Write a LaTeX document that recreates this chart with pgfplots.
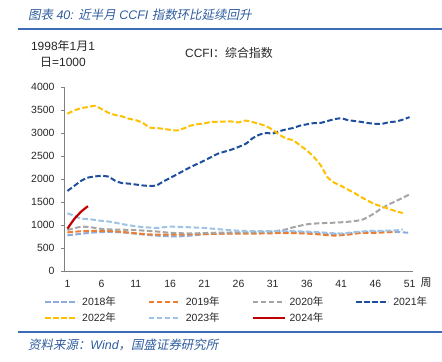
\documentclass[border=0pt]{standalone}
\usepackage{fontspec}
\setmainfont{Liberation Sans}
\newfontfamily\cjk{Noto Sans CJK SC}
\newfontfamily\cjkit{Noto Sans CJK SC}[FakeSlant=0.2]
\usepackage{pgfplots}
\pgfplotsset{compat=1.18}
\definecolor{c18}{HTML}{8FAADC}
\definecolor{c19}{HTML}{ED7D31}
\definecolor{c20}{HTML}{A5A5A5}
\definecolor{c21}{HTML}{1F4E9E}
\definecolor{c22}{HTML}{FFC000}
\definecolor{c23}{HTML}{9DC3E6}
\definecolor{c24}{HTML}{C00000}
\definecolor{tblue}{HTML}{2E5C9E}
\definecolor{rblue}{HTML}{3B6CB5}
\definecolor{axgray}{HTML}{808080}
\definecolor{txt}{HTML}{262626}
\begin{document}
\begin{tikzpicture}[x=1bp,y=1bp]
\useasboundingbox (0,0) rectangle (442,361);
\node[anchor=west, text=tblue, font=\fontsize{12.5}{14}\selectfont, inner sep=0] at (28,346)
 {{\cjkit 图表} {\itshape 40:} {\cjkit 近半月} {\itshape CCFI} {\cjkit 指数环比延续回升}};
\draw[rblue, line width=1.6bp] (18,332) -- (442,332);
\node[align=center, text=txt, font=\fontsize{12}{16}\selectfont, inner sep=0] at (63,307)
 {1998{\cjk 年}1{\cjk 月}1\\{\cjk 日}=1000};
\node[anchor=west, text=txt, font=\fontsize{12}{14}\selectfont, inner sep=0] at (185,308)
 {CCFI{\cjk ：综合指数}};
\begin{axis}[
  at={(64bp,90bp)}, anchor=south west,
  scale only axis, width=349bp, height=184bp,
  xmin=0.5, xmax=51.5, ymin=0, ymax=4000,
  axis lines*=left,
  axis line style={axgray, line width=0.8bp},
  xtick={1,6,...,51}, ytick={0,500,...,4000},
  major x tick style={draw=none},
  major y tick style={axgray, line width=0.8bp},
  tick align=outside, major tick length=3bp,
  ytick pos=left, xtick pos=bottom,
  tick label style={font=\fontsize{10.5}{12}\selectfont, text=txt},
  /pgf/number format/assume math mode=true,
  /pgf/number format/1000 sep={},
  yticklabel style={xshift=-3bp},
  xticklabel style={yshift=-3bp},
  legend columns=4,
  legend style={at={(-0.0573,-0.13)}, anchor=north west, draw=none, fill=none,
    inner sep=0pt, font=\fontsize{10.5}{12}\selectfont, text=txt,
    row sep=1.5bp,
    /tikz/every odd column/.append style={column sep=2bp},
    /tikz/every even column/.append style={column sep=30bp}},
  legend cell align=left,
  legend image code/.code={\draw[#1, line width=2bp] (0bp,0bp) -- (32bp,0bp);},
  every axis plot/.append style={line width=2bp, smooth, tension=0.35},
  dsh/.style={dash pattern=on 5.5bp off 2.5bp},
]
\addplot[c18, dsh] coordinates {(1,775) (3,810) (5,840) (7,850) (9,840) (11,810) (13,780) (15,760) (17,750) (19,770) (21,800) (23,810) (25,820) (27,830) (29,845) (31,850) (33,850) (35,850) (37,830) (39,810) (41,800) (43,830) (45,850) (47,855) (49,850) (51,830)};
\addlegendentry{2018{\cjk 年}}
\addplot[c19, dsh] coordinates {(1,840) (3,865) (5,875) (7,870) (9,850) (11,820) (13,795) (15,790) (17,790) (19,795) (21,800) (23,810) (25,815) (27,815) (29,815) (31,820) (33,825) (35,820) (37,805) (39,780) (40,770) (42,790) (44,830) (46,830) (48,845) (49,860)};
\addlegendentry{2019{\cjk 年}}
\addplot[c20, dsh] coordinates {(1,890) (2,930) (3,960) (4,960) (6,915) (8,900) (10,895) (12,880) (14,860) (16,830) (18,820) (20,820) (22,830) (24,835) (26,840) (28,842) (30,850) (31,860) (33,905) (34,950) (36,1015) (38,1040) (40,1050) (42,1070) (44,1110) (45,1180) (46,1270) (47,1370) (48,1450) (49,1520) (50,1590) (51,1665)};
\addlegendentry{2020{\cjk 年}}
\addplot[c21, dsh] coordinates {(1,1740) (2,1850) (3,1960) (4,2030) (5,2055) (6,2070) (7,2050) (8,1960) (9,1910) (10,1900) (11,1880) (12,1860) (13,1850) (14,1860) (15,1945) (17,2100) (19,2260) (21,2400) (23,2550) (25,2640) (27,2760) (28,2880) (29,2960) (30,3000) (31,2990) (32,3040) (33,3080) (34,3110) (35,3160) (37,3215) (38,3220) (39,3260) (40,3300) (41,3320) (42,3280) (43,3260) (44,3240) (45,3215) (46,3200) (47,3200) (48,3235) (49,3250) (50,3290) (51,3345)};
\addlegendentry{2021{\cjk 年}}
\addplot[c22, dsh] coordinates {(1,3420) (2,3490) (3,3540) (4,3565) (5,3590) (6,3520) (7,3440) (8,3390) (9,3360) (10,3310) (11,3280) (12,3220) (13,3120) (14,3110) (15,3090) (16,3070) (17,3055) (18,3100) (19,3160) (20,3190) (21,3210) (22,3240) (23,3245) (24,3250) (25,3250) (26,3230) (27,3270) (28,3240) (29,3200) (30,3150) (31,3070) (32,2960) (33,2880) (34,2840) (35,2730) (36,2620) (37,2480) (38,2300) (39,2040) (40,1920) (41,1850) (42,1770) (43,1690) (44,1600) (45,1520) (46,1450) (47,1400) (48,1350) (49,1300) (50,1260)};
\addlegendentry{2022{\cjk 年}}
\addplot[c23, dsh] coordinates {(1,1255) (2,1200) (3,1140) (4,1130) (5,1110) (6,1090) (7,1075) (8,1050) (9,1020) (10,995) (11,970) (12,955) (13,945) (14,935) (15,950) (16,965) (17,960) (19,950) (21,935) (23,910) (25,885) (27,870) (29,865) (31,865) (33,870) (35,860) (37,850) (39,830) (40,820) (41,815) (43,845) (45,870) (47,875) (49,885) (50,905)};
\addlegendentry{2023{\cjk 年}}
\addplot[c24, line width=2.2bp] coordinates {(1,920) (2,1130) (3,1290) (4,1410)};
\addlegendentry{2024{\cjk 年}}
\end{axis}
\node[text=txt, font=\fontsize{11}{12}\selectfont, inner sep=0] at (426,78) {\cjk 周};
\draw[rblue, line width=1.6bp] (18,29) -- (442,29);
\node[anchor=west, text=tblue, font=\fontsize{12.5}{14}\selectfont, inner sep=0] at (28,16)
 {{\cjkit 资料来源：}{\itshape Wind}{\cjkit ，国盛证券研究所}};
\end{tikzpicture}
\end{document}
